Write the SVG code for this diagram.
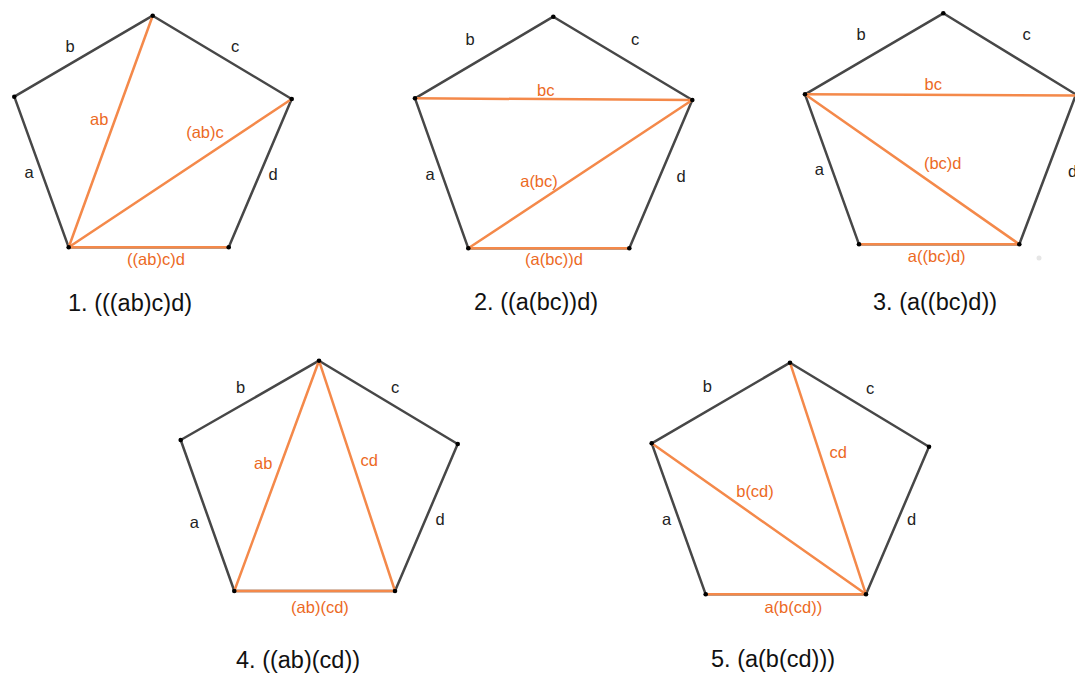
<svg xmlns="http://www.w3.org/2000/svg" width="1075" height="673" viewBox="0 0 1075 673">
<style>
.edge{fill:none;stroke:#474747;stroke-width:2.5;stroke-linejoin:round}
.diag{fill:none;stroke:#f4894a;stroke-width:2.5;stroke-linecap:round}
.lbl{font-family:"Liberation Sans",Arial,sans-serif;font-size:16.5px;fill:#222;text-anchor:middle}
.olbl{font-family:"Liberation Sans",Arial,sans-serif;font-size:16.5px;fill:#ec6a1f;text-anchor:middle}
.cap{font-family:"Liberation Sans",Arial,sans-serif;font-size:23.5px;fill:#111}
.dot{fill:#000}
</style>
<rect width="1075" height="673" fill="#fff"/>

<g id="fig1">
<polygon class="edge" points="152.7,15.7 291.7,99 228.7,247.3 68.7,247.3 14.3,96.7"/>
<g id="fig1-diagonals">
<line class="diag" x1="68.7" y1="247.3" x2="152.7" y2="15.7"/>
<line class="diag" x1="68.7" y1="247.3" x2="291.7" y2="99"/>
<line class="diag" x1="68.7" y1="247.3" x2="228.7" y2="247.3"/>
</g>
<g class="dot"><circle cx="152.7" cy="15.7" r="2.3"/><circle cx="291.7" cy="99" r="2.3"/><circle cx="228.7" cy="247.3" r="2.3"/><circle cx="68.7" cy="247.3" r="2.3"/><circle cx="14.3" cy="96.7" r="2.3"/></g>
<text class="lbl" x="70" y="52">b</text>
<text class="lbl" x="235" y="52">c</text>
<text class="lbl" x="29" y="178">a</text>
<text class="lbl" x="273" y="180">d</text>
<text class="olbl" x="99.3" y="125">ab</text>
<text class="olbl" x="205" y="138">(ab)c</text>
<text class="olbl" x="156" y="265">((ab)c)d</text>
<text class="cap" x="68" y="311">1. (((ab)c)d)</text>
</g>

<g id="fig2">
<polygon class="edge" points="553.3,16.7 692.3,100 629.3,248.3 468.3,248.3 415,98.3"/>
<g id="fig2-diagonals">
<line class="diag" x1="415" y1="98.3" x2="692.3" y2="100"/>
<line class="diag" x1="468.3" y1="248.3" x2="692.3" y2="100"/>
<line class="diag" x1="468.3" y1="248.3" x2="629.3" y2="248.3"/>
</g>
<g class="dot"><circle cx="553.3" cy="16.7" r="2.3"/><circle cx="692.3" cy="100" r="2.3"/><circle cx="629.3" cy="248.3" r="2.3"/><circle cx="468.3" cy="248.3" r="2.3"/><circle cx="415" cy="98.3" r="2.3"/></g>
<text class="lbl" x="470" y="45">b</text>
<text class="lbl" x="635" y="45">c</text>
<text class="lbl" x="430" y="180">a</text>
<text class="lbl" x="681" y="182">d</text>
<text class="olbl" x="545.7" y="96">bc</text>
<text class="olbl" x="539" y="187">a(bc)</text>
<text class="olbl" x="554" y="265">(a(bc))d</text>
<text class="cap" x="474" y="310">2. ((a(bc))d)</text>
</g>

<g id="fig3">
<polygon class="edge" points="943.3,13.3 1076,94.5 1019.3,244.3 859,244.3 805,94.3"/>
<g id="fig3-diagonals">
<line class="diag" x1="805" y1="94.3" x2="1076" y2="95.5"/>
<line class="diag" x1="805" y1="94.3" x2="1019.3" y2="244.3"/>
<line class="diag" x1="859" y1="244.3" x2="1019.3" y2="244.3"/>
</g>
<g class="dot"><circle cx="943.3" cy="13.3" r="2.3"/><circle cx="1019.3" cy="244.3" r="2.3"/><circle cx="859" cy="244.3" r="2.3"/><circle cx="805" cy="94.3" r="2.3"/></g>
<circle cx="1039" cy="258" r="2.5" fill="#e6e6e6"/>
<text class="lbl" x="861" y="40">b</text>
<text class="lbl" x="1026.7" y="40">c</text>
<text class="lbl" x="819.3" y="175">a</text>
<text class="lbl" x="1068" y="177" style="text-anchor:start">d</text>
<text class="olbl" x="933.3" y="90">bc</text>
<text class="olbl" x="942.7" y="169">(bc)d</text>
<text class="olbl" x="936.7" y="262">a((bc)d)</text>
<text class="cap" x="873" y="310">3. (a((bc)d))</text>
</g>

<g id="fig4">
<polygon class="edge" points="319,360.7 457.7,444 395,591 234.3,591 180.7,440"/>
<g id="fig4-diagonals">
<line class="diag" x1="234.3" y1="591" x2="319" y2="360.7"/>
<line class="diag" x1="395" y1="591" x2="319" y2="360.7"/>
<line class="diag" x1="234.3" y1="591" x2="395" y2="591"/>
</g>
<g class="dot"><circle cx="319" cy="360.7" r="2.3"/><circle cx="457.7" cy="444" r="2.3"/><circle cx="395" cy="591" r="2.3"/><circle cx="234.3" cy="591" r="2.3"/><circle cx="180.7" cy="440" r="2.3"/></g>
<text class="lbl" x="240.7" y="393">b</text>
<text class="lbl" x="395" y="393">c</text>
<text class="lbl" x="194.3" y="528">a</text>
<text class="lbl" x="440" y="525">d</text>
<text class="olbl" x="263.3" y="469">ab</text>
<text class="olbl" x="369.3" y="466">cd</text>
<text class="olbl" x="320" y="613">(ab)(cd)</text>
<text class="cap" x="236" y="668">4. ((ab)(cd))</text>
</g>

<g id="fig5">
<polygon class="edge" points="790,362.7 929,446.7 866,594.3 705.7,594.3 651.7,443.3"/>
<g id="fig5-diagonals">
<line class="diag" x1="651.7" y1="443.3" x2="866" y2="594.3"/>
<line class="diag" x1="790" y1="362.7" x2="866" y2="594.3"/>
<line class="diag" x1="705.7" y1="594.3" x2="866" y2="594.3"/>
</g>
<g class="dot"><circle cx="790" cy="362.7" r="2.3"/><circle cx="929" cy="446.7" r="2.3"/><circle cx="866" cy="594.3" r="2.3"/><circle cx="705.7" cy="594.3" r="2.3"/><circle cx="651.7" cy="443.3" r="2.3"/></g>
<text class="lbl" x="707.3" y="392">b</text>
<text class="lbl" x="870" y="394">c</text>
<text class="lbl" x="666.7" y="525">a</text>
<text class="lbl" x="911.7" y="525">d</text>
<text class="olbl" x="838.3" y="458">cd</text>
<text class="olbl" x="755" y="497">b(cd)</text>
<text class="olbl" x="793.3" y="613">a(b(cd))</text>
<text class="cap" x="711" y="667">5. (a(b(cd)))</text>
</g>
</svg>
